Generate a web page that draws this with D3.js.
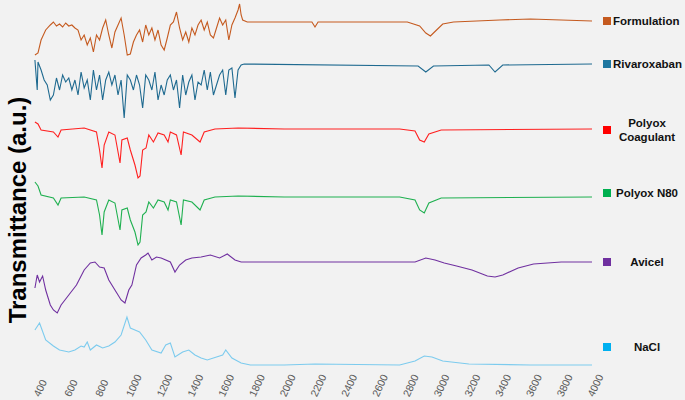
<!DOCTYPE html>
<html><head><meta charset="utf-8">
<script src="https://cdn.jsdelivr.net/npm/d3@7"></script>
<style>body{margin:0;background:#f2f2f2}svg{display:block}</style></head>
<body><svg id="c" width="685" height="400"></svg>
<script>
// Stacked transmittance values (a.u., offset per spectrum), [wavenumber, value]
const seriesNames = ["Formulation","Rivaroxaban","Polyox Coagulant","Polyox N80","Avicel","NaCl"];
const legendLabels = [["Formulation"],["Rivaroxaban"],["Polyox","Coagulant"],["Polyox N80"],["Avicel"],["NaCl"]];
const xTicks = d3.range(400, 4001, 200);
function yv(a){return a.map(d=>[d[0],400-d[1]]);}
const formulation = yv([[380,55],[400,53],[420,40],[450,30],[480,25],[500,22],[520,26],[540,24],[560,27],[580,23],[600,26],[620,25],[640,28],[660,30],[680,40],[700,35],[720,45],[740,38],[760,52],[780,35],[800,40],[820,28],[840,20],[860,35],[880,48],[900,32],[920,25],[940,18],[960,35],[980,55],[1000,54],[1020,42],[1040,35],[1060,30],[1080,42],[1100,25],[1120,35],[1140,28],[1160,40],[1180,30],[1200,45],[1220,50],[1240,38],[1260,25],[1280,22],[1300,12],[1320,28],[1340,40],[1360,32],[1380,42],[1400,28],[1420,35],[1440,25],[1460,20],[1480,30],[1500,22],[1520,35],[1540,38],[1560,28],[1580,18],[1600,25],[1620,20],[1640,40],[1660,25],[1680,18],[1700,10],[1710,4],[1720,15],[1730,20],[1760,22],[2000,22],[2180,22],[2200,27],[2220,22],[2800,22],[2880,26],[2920,33],[2950,36],[2990,30],[3030,24],[3100,22],[3400,20],[3600,19],[3800,20],[4000,21]]);
const rivaroxaban = yv([[380,60],[395,90],[400,62],[420,70],[440,80],[460,85],[480,100],[500,95],[520,78],[540,90],[560,75],[580,82],[600,78],[620,90],[640,80],[660,95],[680,72],[700,88],[720,80],[740,100],[760,70],[780,90],[800,75],[820,100],[840,80],[860,72],[880,85],[900,75],[920,95],[940,80],[960,118],[980,75],[1000,80],[1020,90],[1040,75],[1060,85],[1080,108],[1100,75],[1120,80],[1140,90],[1160,72],[1180,100],[1200,85],[1220,95],[1240,80],[1260,75],[1280,90],[1300,80],[1320,108],[1340,75],[1360,95],[1380,82],[1400,75],[1420,100],[1440,82],[1460,85],[1480,70],[1500,90],[1520,72],[1540,95],[1560,85],[1580,75],[1600,70],[1620,95],[1640,70],[1660,68],[1680,98],[1700,70],[1720,65],[1740,64],[2870,66],[2920,72],[2970,66],[3330,65],[3370,72],[3420,65],[4000,64]]);
const polyoxCoag = yv([[380,122],[400,124],[420,130],[500,132],[530,137],[550,130],[700,128],[780,132],[800,150],[816,168],[830,145],[860,132],[900,135],[933,163],[945,140],[980,138],[1000,150],[1030,165],[1050,178],[1063,176],[1080,150],[1102,148],[1120,135],[1150,142],[1180,133],[1220,135],[1245,142],[1260,132],[1300,135],[1330,155],[1345,132],[1400,135],[1453,142],[1480,132],[1550,129],[1700,128],[2000,129],[2750,129],[2850,131],[2880,140],[2910,142],[2940,134],[3020,130],[4000,129]]);
const polyoxN80 = yv([[380,182],[400,186],[420,195],[500,198],[530,205],[550,198],[700,197],[780,200],[800,215],[816,235],[830,212],[860,200],[900,203],[933,230],[945,210],[980,208],[1000,220],[1030,232],[1050,245],[1063,242],[1080,215],[1102,212],[1120,202],[1150,208],[1180,200],[1220,202],[1245,210],[1260,200],[1300,202],[1330,225],[1345,200],[1400,202],[1453,210],[1480,200],[1550,197],[1700,196],[2000,197],[2750,197],[2850,200],[2880,210],[2910,213],[2940,203],[3020,198],[4000,197]]);
const avicel = yv([[380,288],[395,275],[410,282],[430,276],[450,290],[480,305],[500,310],[525,313],[550,305],[600,295],[650,285],[700,270],[740,263],[770,262],[800,267],[830,268],[860,280],[900,290],[940,300],[965,303],[990,290],[1010,285],[1040,265],[1070,258],[1100,255],[1115,253],[1140,260],[1170,257],[1200,258],[1260,262],[1290,272],[1320,265],[1360,260],[1400,258],[1460,257],[1520,255],[1580,258],[1630,254],[1680,260],[1720,262],[2000,262],[2850,262],[2920,258],[2980,260],[3040,263],[3120,266],[3220,270],[3320,276],[3370,277],[3420,275],[3520,268],[3620,264],[3800,262],[4000,262]]);
const nacl = yv([[380,330],[410,323],[450,340],[500,346],[540,350],[600,352],[640,350],[680,346],[700,347],[720,342],[740,350],[780,345],[820,348],[860,346],[900,342],[940,335],[978,317],[1000,328],[1030,330],[1060,332],[1100,340],[1140,350],[1200,353],[1230,345],[1260,343],[1290,357],[1340,352],[1380,350],[1420,355],[1460,358],[1500,360],[1560,357],[1600,355],[1620,350],[1660,358],[1720,363],[1780,365],[2000,365],[2200,364],[2750,365],[2850,361],[2910,356],[2960,357],[3030,361],[3200,364],[3600,365],[4000,365]]);
const allSeries = [formulation, rivaroxaban, polyoxCoag, polyoxN80, avicel, nacl];
const lineColors = ["#c55a1f","#1f6a90","#ff2020","#1fb050","#7030a0","#7ccbee"];
const swatchColors = ["#c55a1f","#1f77a0","#ff0000","#00b050","#7030a0","#00b0f0"];
const legendY = [21,64,130,193,262,347];

const svg = d3.select("#c");
svg.append("rect").attr("width",685).attr("height",400).attr("fill","#f2f2f2");
const x = d3.scaleLinear().domain([400,4000]).range([38,592]);
const y = d3.scaleLinear().domain([0,400]).range([400,0]);
const line = d3.line().x(d=>x(d[0])).y(d=>y(d[1]));
allSeries.forEach((s,i)=>{
  svg.append("path").datum(s).attr("d",line).attr("fill","none")
    .attr("stroke",lineColors[i]).attr("stroke-width",1.1);
});
const ax = svg.append("g").attr("transform","translate(0,368)")
  .call(d3.axisBottom(x).tickValues(xTicks).tickSize(0).tickFormat(d3.format("d")));
ax.select(".domain").remove();
ax.selectAll("text").attr("font-family","Liberation Sans, Arial").attr("font-size",10.5)
  .attr("fill","#595959").attr("text-anchor","start").attr("dy","0.35em").attr("y",0)
  .attr("transform","translate(-2,28) rotate(-65)");
svg.append("text").attr("transform","translate(26,210) rotate(-90)")
  .attr("text-anchor","middle").attr("font-family","Liberation Sans, Arial")
  .attr("font-weight","bold").attr("font-size",24).text("Transmittance (a.u.)");
legendLabels.forEach((lab,i)=>{
  const g = svg.append("g").attr("transform",`translate(0,${legendY[i]})`);
  g.append("rect").attr("x",603).attr("y",-4).attr("width",8).attr("height",8).attr("fill",swatchColors[i]);
  const cx = 647;
  lab.forEach((t,j)=>{
    g.append("text").attr("x", lab.length>1||i>2 ? cx : 613)
      .attr("text-anchor", lab.length>1||i>2 ? "middle":"start")
      .attr("y", (j-(lab.length-1)/2)*14+4)
      .attr("font-family","Liberation Sans, Arial").attr("font-weight","bold")
      .attr("font-size",11.5).attr("fill","#111").text(t);
  });
});
</script></body></html>
